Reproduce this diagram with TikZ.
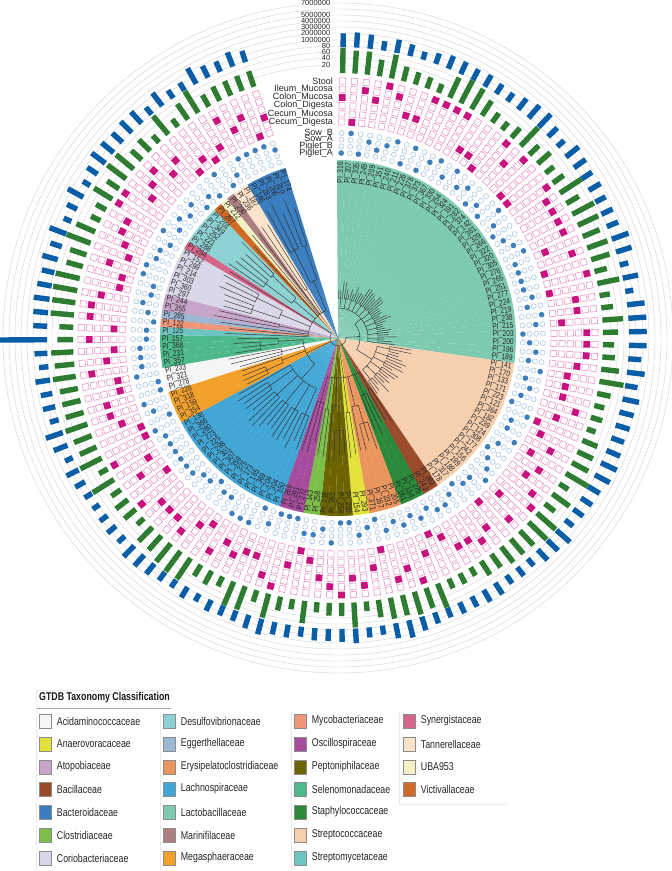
\documentclass[tikz,border=0pt]{standalone}
\usepackage{fontspec}
\setmainfont{Liberation Sans}
\newfontfamily\narrowfont[FakeStretch=0.78]{Liberation Sans}
\usepackage{tikz}
\usetikzlibrary{positioning}

% family colours
\definecolor{acid}{HTML}{F5F5F5}
\definecolor{anaer}{HTML}{E2E23B}
\definecolor{atopo}{HTML}{C7A5C9}
\definecolor{bacil}{HTML}{9A4B2C}
\definecolor{bacte}{HTML}{3A7EC0}
\definecolor{clost}{HTML}{7DBE4B}
\definecolor{corio}{HTML}{D8D8E9}
\definecolor{desul}{HTML}{8DD2D2}
\definecolor{egger}{HTML}{9CB6D3}
\definecolor{erysi}{HTML}{EA955E}
\definecolor{lachno}{HTML}{41A6D6}
\definecolor{lacto}{HTML}{7DCAB0}
\definecolor{marini}{HTML}{AE7F80}
\definecolor{megas}{HTML}{F3A02B}
\definecolor{mycob}{HTML}{EF9579}
\definecolor{oscil}{HTML}{A64C9C}
\definecolor{pepto}{HTML}{6B6400}
\definecolor{selen}{HTML}{4DB98A}
\definecolor{staph}{HTML}{2A8A3A}
\definecolor{strep}{HTML}{F6CFAF}
\definecolor{strmy}{HTML}{6CC5C1}
\definecolor{syner}{HTML}{D5668A}
\definecolor{tann}{HTML}{FAE3CA}
\definecolor{uba}{HTML}{F4F1C6}
\definecolor{victi}{HTML}{D06A25}
% ring colours
\definecolor{dotline}{HTML}{A6C4E4}
\definecolor{dotblue}{HTML}{3F7EBD}
\definecolor{sqline}{HTML}{EC8FC7}
\definecolor{sqmag}{HTML}{C8137E}
\definecolor{gbar}{HTML}{2D7C31}
\definecolor{bbar}{HTML}{0A5DA7}

\pgfdeclarelayer{back}
\pgfdeclarelayer{bg}
\pgfsetlayers{back,bg,main}

\newcounter{leaf}
\newcounter{nfam}

\tikzset{
  treeline/.style={draw=black!80, line width=0.45pt},
  gridline/.style={draw=black!16, line width=0.45pt},
  dotopen/.style={draw=dotline, line width=0.55pt},
  dotfull/.style={fill=dotblue},
  sqopen/.style={draw=sqline, line width=0.55pt},
  sqfull/.style={fill=sqmag},
  greenbar/.style={draw=gbar, line width=5.4pt},
  bluebar/.style={draw=bbar, line width=5.4pt},
  leaflabel/.style={font=\narrowfont\fontsize{8.5}{9}\selectfont, inner sep=0pt, text=black!85},
  ringlabel/.style={font=\fontsize{9}{9}\selectfont, anchor=east, inner sep=0pt, text=black!85},
  scalelabel/.style={font=\fontsize{7.5}{8}\selectfont, anchor=east, inner sep=0.6pt, fill=white, text=black!85},
  legendbox/.style={draw=black!45, line width=0.4pt, minimum width=12pt, minimum height=13.5pt, inner sep=0pt},
  legendtext/.style={font=\narrowfont\fontsize{11.3}{13}\selectfont, anchor=west, inner sep=0pt, text=black!85},
  sepline/.style={draw=black!8, line width=0.6pt}
}

\begin{document}
\begin{tikzpicture}[x=1pt, y=1pt]
\useasboundingbox (-338,-533) rectangle (334,338);
\begin{pgfonlayer}{back}
  \fill[white] (-338,-533) rectangle (334,338);
\end{pgfonlayer}
\pgfmathsetseed{42}

% scale circles
\foreach \r in {273,280,286,292,298,305,311,317,323,329,335}
  \draw[gridline] (0,0) circle[radius=\r];

% leaves, family by family (clockwise from the top)
\setcounter{leaf}{0}
\foreach \fc/\rp/\rf/\rt/\lv in {
  lacto/22/30/52/{316,207,335,249,209,151,240,211,226,378,373,367,330,254,324,191,282,374,142,361,329,266,322,320,305,276,265,251,277,224,219,238,215,203,200,196,189},
  strep/22/40/68/{141,170,133,171,223,121,364,182,239,124,308,177,242,156,199,188,317,178},
  bacil/40/60/95/{362,243},
  staph/40/62/100/{275,134,161},
  erysi/40/70/112/{205,232,167,371},
  anaer/40/75/118/{293,154},
  pepto/40/68/122/{250,256,262,216},
  clost/40/72/118/{258,143},
  oscil/40/66/112/{272,291,269},
  lachno/35/55/118/{350,304,204,369,185,173,375,359,307,301,298,225,273,280,366,138},
  megas/35/60/100/{354,159,318,228},
  acid/35/58/105/{278,321,233},
  selen/35/60/100/{357,231,368,157},
  strmy/30/45/110/{125},
  mycob/30/48/115/{122},
  egger/30/52/120/{285},
  atopo/30/60/125/{355,244},
  corio/30/62/125/{297,360,303,214,299,152},
  syner/30/55/125/{294},
  desul/30/58/130/{288,221,252,349,201},
  victi/30/52/130/{267},
  uba/30/52/135/{212},
  marini/30/55/135/{290},
  tann/30/58/135/{236,187},
  bacte/30/62/142/{146,283,286,310,174}}{
  \setcounter{nfam}{0}
  \foreach \x in \lv {\stepcounter{nfam}}
  \xdef\first{\theleaf}
  \pgfmathtruncatemacro\nf{\thenfam}
  \pgfmathsetmacro\rc{\rf+0.45*(\rt-\rf)}
  \ifnum\nf>3\relax \let\rb\rc \else \let\rb\rf \fi
  \foreach \n in \lv {
    \pgfmathsetmacro\a{89-2.66*\theleaf}
    \pgfmathsetmacro\aL{\a+1.36}
    \pgfmathsetmacro\aR{\a-1.36}
    \begin{pgfonlayer}{bg}
      \fill[\fc] (0,0) -- (\aL:178) arc[start angle=\aL, end angle=\aR, radius=178] -- cycle;
    \end{pgfonlayer}
    % label
    \pgfmathtruncatemacro\lft{\a<-90}
    \ifnum\lft=1\relax
      \node[leaflabel, anchor=west, rotate=\a+180] at (\a:176) {PI\_\n};
    \else
      \node[leaflabel, anchor=east, rotate=\a] at (\a:176) {PI\_\n};
    \fi
    % branch
    \pgfmathsetmacro\tip{\rt+14*(rnd-0.5)}
    \draw[treeline] (\a:\rb) -- (\a:\tip);
    % host dots
    \pgfmathrandominteger{\dsel}{0}{3}
    \foreach \k/\rr in {0/185,1/191.7,2/198.3,3/205}{
      \ifnum\k=\dsel\relax
        \fill[dotfull] (\a:\rr) circle[radius=2.8];
      \else
        \draw[dotopen] (\a:\rr) circle[radius=2.5];
      \fi
    }
    % site squares
    \pgfmathrandominteger{\ssel}{0}{5}
    \foreach \k/\rr in {0/216,1/224.2,2/232.4,3/240.6,4/248.8,5/257}{
      \ifnum\k=\ssel\relax
        \fill[sqfull, rotate=\a] (\rr-3.4,-3.4) rectangle (\rr+3.4,3.4);
      \else
        \draw[sqopen, rotate=\a] (\rr-3.1,-3.1) rectangle (\rr+3.1,3.1);
      \fi
    }
    % bars
    \pgfmathsetmacro\gl{265+9+rnd*17}
    \draw[greenbar] (\a:265) -- (\a:\gl);
    \ifnum\n=157\relax
      \pgfmathsetmacro\bl{360}
    \else
      \pgfmathsetmacro\bl{291+8+rnd*10}
    \fi
    \draw[bluebar] (\a:291) -- (\a:\bl);
    \stepcounter{leaf}
  }
  % family clade
  \ifnum\nf>3\relax
    \pgfmathtruncatemacro\nc{ceil(\nf/3)}
    \foreach \k in {1,...,\nc}{
      \pgfmathtruncatemacro\jf{\first+3*(\k-1)}
      \pgfmathtruncatemacro\jl{min(\first+3*\k-1,\first+\nf-1)}
      \pgfmathsetmacro\af{89-2.66*\jf}
      \pgfmathsetmacro\al{89-2.66*\jl}
      \pgfmathsetmacro\am{(\af+\al)/2}
      \ifnum\jl>\jf\relax
        \draw[treeline] (\af:\rc) arc[start angle=\af, end angle=\al, radius=\rc];
      \fi
      \draw[treeline] (\am:\rf) -- (\am:\rc);
    }
    \pgfmathsetmacro\fa{89-2.66*(\first+1)}
    \pgfmathsetmacro\lastjf{\first+3*(\nc-1)}
    \pgfmathsetmacro\fb{89-2.66*(\lastjf+\first+\nf-1)/2}
  \else
    \pgfmathsetmacro\fa{89-2.66*\first}
    \pgfmathsetmacro\fb{89-2.66*(\first+\nf-1)}
  \fi
  \draw[treeline] (\fa:\rf) arc[start angle=\fa, end angle=\fb, radius=\rf];
  \pgfmathsetmacro\fm{(\fa+\fb)/2}
  \draw[treeline] (\fm:\rp) -- (\fm:\rf);
  \expandafter\xdef\csname fm@\fc\endcsname{\fm}
}

% backbone
\foreach \ca/\cb/\cr in {lacto/strep/22, bacil/oscil/40, lachno/selen/35, strmy/bacte/30}{
  \pgfmathsetmacro\xa{\csname fm@\ca\endcsname}
  \pgfmathsetmacro\xb{\csname fm@\cb\endcsname}
  \pgfmathsetmacro\xm{(\xa+\xb)/2}
  \draw[treeline] (\xa:\cr) arc[start angle=\xa, end angle=\xb, radius=\cr];
  \draw[treeline] (\xm:8) -- (\xm:\cr);
  \expandafter\xdef\csname cm@\ca\endcsname{\xm}
}
\pgfmathsetmacro\ra{\csname cm@lacto\endcsname}
\pgfmathsetmacro\rz{\csname cm@strmy\endcsname}
\draw[treeline] (\ra:8) arc[start angle=\ra, end angle=\rz, radius=8];

% ring labels
\node[scalelabel] (s7) at (-7,335) {7000000};
\node[scalelabel] (s5) at (-7,323) {5000000};
\node[scalelabel] (s4) at (-7,317) {4000000};
\node[scalelabel] (s3) at (-7,311) {3000000};
\node[scalelabel] (s2) at (-7,305) {2000000};
\node[scalelabel] (s1) at (-7,298) {1000000};
\node[scalelabel] (s80) at (-7,292) {80};
\node[scalelabel] (s60) at (-7,286) {60};
\node[scalelabel] (s40) at (-7,280) {40};
\node[scalelabel] (s20) at (-7,273) {20};

\node[ringlabel] (stool) at (-5,257) {Stool};
\node[ringlabel] (ileum) at (-5,248.8) {Ileum\_Mucosa};
\node[ringlabel] (colonm) at (-5,240.6) {Colon\_Mucosa};
\node[ringlabel] (colond) at (-5,232.4) {Colon\_Digesta};
\node[ringlabel] (cecumm) at (-5,224.2) {Cecum\_Mucosa};
\node[ringlabel] (cecumd) at (-5,216) {Cecum\_Digesta};

\node[ringlabel] (sowb) at (-5,205) {Sow\_B};
\node[ringlabel] (sowa) at (-5,198.3) {Sow\_A};
\node[ringlabel] (pigb) at (-5,191.7) {Piglet\_B};
\node[ringlabel] (piga) at (-5,185) {Piglet\_A};

% legend (image coordinates)
\begin{scope}[shift={(-338,338)}, y=-1pt]
  \draw[sepline] (36,690) -- (36,871);
  \draw[sepline] (36,690) -- (172,690);
  \draw[sepline] (160,712) -- (160,871);
  \draw[sepline] (291,712) -- (291,871);
  \draw[sepline] (399,712) -- (399,804) -- (507,804);
  \node[font=\narrowfont\bfseries\fontsize{11.3}{13}\selectfont, anchor=west, inner sep=0pt, text=black!90] (title) at (39,698) {GTDB Taxonomy Classification};
  \draw[black!35, line width=0.8pt] (37,708) -- (171,708);
  \foreach \nm/\cl/\cx/\ry in {
    Acidaminococcaceae/acid/45/721, Anaerovoracaceae/anaer/45/744,
    Atopobiaceae/atopo/45/767, Bacillaceae/bacil/45/789,
    Bacteroidaceae/bacte/45/812, Clostridiaceae/clost/45/835,
    Coriobacteriaceae/corio/45/858,
    Desulfovibrionaceae/desul/169/721, Eggerthellaceae/egger/169/744,
    Erysipelatoclostridiaceae/erysi/169/767, Lachnospiraceae/lachno/169/789,
    Lactobacillaceae/lacto/169/812, Marinifilaceae/marini/169/835,
    Megasphaeraceae/megas/169/858,
    Mycobacteriaceae/mycob/300/721, Oscillospiraceae/oscil/300/744,
    Peptoniphilaceae/pepto/300/767, Selenomonadaceae/selen/300/789,
    Staphylococcaceae/staph/300/812, Streptococcaceae/strep/300/835,
    Streptomycetaceae/strmy/300/858,
    Synergistaceae/syner/409/721, Tannerellaceae/tann/409/744,
    UBA953/uba/409/767, Victivallaceae/victi/409/789}{
    \node[legendbox, fill=\cl] (sw\cl) at (\cx,\ry) {};
    \node[legendtext, right=5.5pt of sw\cl] (tx\cl) {\nm};
  }
\end{scope}
\end{tikzpicture}
\end{document}
